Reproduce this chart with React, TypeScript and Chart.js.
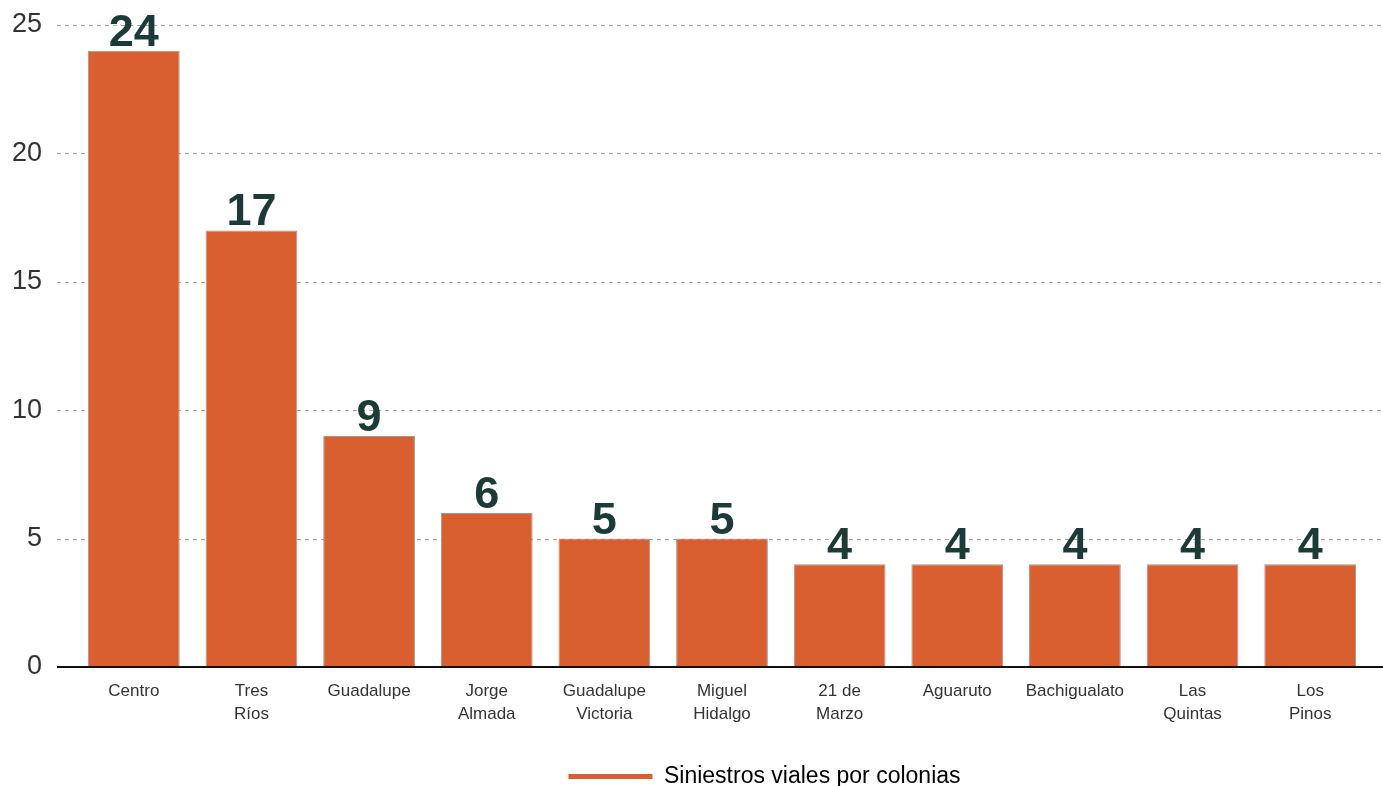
import React, { useEffect, useRef } from "react";
import { Chart, registerables } from "chart.js";

Chart.register(...registerables);

const categories: (string | string[])[] = [
  "Centro",
  ["Tres", "Ríos"],
  "Guadalupe",
  ["Jorge", "Almada"],
  ["Guadalupe", "Victoria"],
  ["Miguel", "Hidalgo"],
  ["21 de", "Marzo"],
  "Aguaruto",
  "Bachigualato",
  ["Las", "Quintas"],
  ["Los", "Pinos"],
];
const siniestros: number[] = [24, 17, 9, 6, 5, 5, 4, 4, 4, 4, 4];
const seriesName = "Siniestros viales por colonias";
const yTicks: number[] = [0, 5, 10, 15, 20, 25];

const BAR_COLOR = "#d95f30";
const LABEL_COLOR = "#1b3a38";
const FONT = "'Liberation Sans', Arial, Helvetica, sans-serif";

const gridPlugin = {
  id: "extendedGrid",
  beforeDatasetsDraw(chart: any) {
    const { ctx, scales } = chart;
    const y = scales.y;
    const left = chart.chartArea.left - 18;
    const right = chart.width;
    ctx.save();
    ctx.strokeStyle = "#a8a8a8";
    ctx.lineWidth = 1;
    ctx.setLineDash([4, 4]);
    yTicks.forEach((v) => {
      if (v === 0) return;
      const py = Math.round(y.getPixelForValue(v)) + 0.5;
      ctx.beginPath();
      ctx.moveTo(left, py);
      ctx.lineTo(right, py);
      ctx.stroke();
    });
    ctx.restore();
  },
  afterDatasetsDraw(chart: any) {
    const { ctx, scales } = chart;
    const y = scales.y;
    const left = chart.chartArea.left - 18;
    const right = chart.width;
    const py = y.getPixelForValue(0);
    ctx.save();
    ctx.strokeStyle = "#111";
    ctx.lineWidth = 2;
    ctx.beginPath();
    ctx.moveTo(left, py);
    ctx.lineTo(right, py);
    ctx.stroke();
    // value labels
    const meta = chart.getDatasetMeta(0);
    ctx.fillStyle = LABEL_COLOR;
    ctx.font = `bold 45px ${FONT}`;
    ctx.textAlign = "center";
    ctx.textBaseline = "alphabetic";
    meta.data.forEach((el: any, i: number) => {
      ctx.fillText(String(siniestros[i]), el.x, el.y - 5);
    });
    ctx.restore();
  },
  afterLayout(chart: any) {
    const lg = chart.legend;
    if (lg) {
      lg.left += 80;
      lg.right += 80;
    }
  },
};

export default function App() {
  const canvasRef = useRef<HTMLCanvasElement | null>(null);

  useEffect(() => {
    if (!canvasRef.current) return;
    const chart = new Chart(canvasRef.current, {
      type: "bar",
      data: {
        labels: categories,
        datasets: [
          {
            label: seriesName,
            data: siniestros,
            backgroundColor: BAR_COLOR,
            borderColor: "rgba(160,140,130,0.9)",
            borderWidth: 1,
            barPercentage: 0.78,
            categoryPercentage: 1,
          },
        ],
      },
      options: {
        animation: false,
        responsive: true,
        maintainAspectRatio: false,
        layout: { padding: { top: 25, right: 14, left: 0, bottom: 0 } },
        scales: {
          x: {
            grid: { display: false, drawTicks: false },
            border: { display: false },
            ticks: {
              color: "#333",
              font: { family: FONT, size: 17, lineHeight: 1.35 },
              padding: 13,
              maxRotation: 0,
              autoSkip: false,
            },
            afterFit(scale: any) {
              scale.height = 88;
            },
          },
          y: {
            min: 0,
            max: 25,
            grid: { display: false, drawTicks: false },
            border: { display: false },
            ticks: {
              stepSize: 5,
              color: "#333",
              font: { family: FONT, size: 27 },
              padding: 33,
            },
            afterFit(scale: any) {
              scale.width = 75;
              scale.paddingTop = 0;
              scale.paddingBottom = 0;
            },
          },
        },
        plugins: {
          tooltip: { enabled: false },
          legend: {
            position: "bottom",
            labels: {
              boxWidth: 84,
              boxHeight: 5,
              color: "#222",
              font: { family: FONT, size: 23 },
              generateLabels: () => [
                {
                  text: seriesName,
                  fillStyle: BAR_COLOR,
                  strokeStyle: BAR_COLOR,
                  lineWidth: 0,
                  hidden: false,
                  datasetIndex: 0,
                },
              ],
            },
          },
        },
      },
      plugins: [gridPlugin],
    });
    return () => chart.destroy();
  }, []);

  return (
    <div
      style={{
        position: "fixed",
        left: 0,
        top: 0,
        width: 1383,
        height: 786,
        overflow: "hidden",
        background: "#fff",
      }}
    >
      <div style={{ position: "relative", width: 1383, height: 798 }}>
        <canvas ref={canvasRef} />
      </div>
    </div>
  );
}
